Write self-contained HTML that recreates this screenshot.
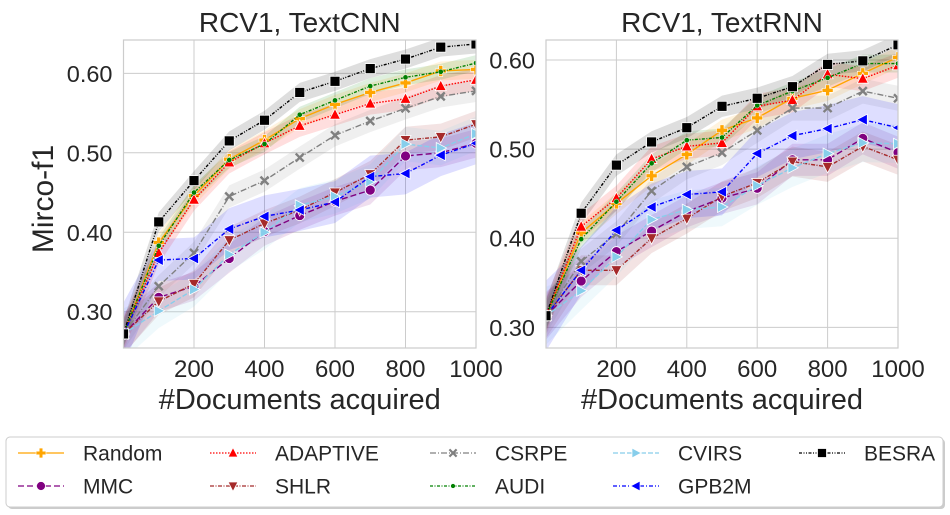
<!DOCTYPE html>
<html><head><meta charset="utf-8"><style>
body{margin:0;background:#fff;}
svg{display:block;font-family:"Liberation Sans",Arial,sans-serif;}
</style></head><body>
<svg id="chart" width="950" height="515"></svg>
<script>
const xs=[0,100,200,300,400,500,600,700,800,900,1000];
const names=["Random","MMC","ADAPTIVE","SHLR","CSRPE","AUDI","CVIRS","GPB2M","BESRA"];
// Left: TextCNN
const cnnRandom=[0.272,0.387,0.446,0.492,0.516,0.543,0.561,0.576,0.588,0.603,0.605];
const cnnMMC=[0.272,0.318,0.332,0.367,0.401,0.421,0.439,0.453,0.496,0.500,0.512];
const cnnADAPTIVE=[0.272,0.374,0.441,0.488,0.512,0.534,0.548,0.562,0.568,0.584,0.592];
const cnnSHLR=[0.272,0.313,0.335,0.390,0.411,0.428,0.450,0.473,0.516,0.520,0.536];
const cnnCSRPE=[0.272,0.332,0.374,0.445,0.465,0.494,0.522,0.540,0.556,0.571,0.578];
const cnnAUDI=[0.272,0.383,0.450,0.491,0.511,0.548,0.566,0.584,0.595,0.602,0.613];
const cnnCVIRS=[0.272,0.301,0.328,0.372,0.400,0.434,0.445,0.464,0.511,0.506,0.524];
const cnnGPB2M=[0.272,0.365,0.367,0.404,0.420,0.428,0.438,0.470,0.474,0.497,0.512];
const cnnBESRA=[0.272,0.413,0.465,0.515,0.541,0.576,0.590,0.606,0.618,0.633,0.637];
// Right: TextRNN
const rnnRandom=[0.313,0.406,0.439,0.470,0.494,0.521,0.535,0.557,0.566,0.585,0.603];
const rnnMMC=[0.313,0.352,0.385,0.408,0.430,0.445,0.456,0.488,0.488,0.512,0.496];
const rnnADAPTIVE=[0.313,0.413,0.445,0.489,0.503,0.507,0.548,0.555,0.584,0.579,0.594];
const rnnSHLR=[0.313,0.364,0.364,0.400,0.422,0.447,0.462,0.486,0.480,0.503,0.488];
const rnnCSRPE=[0.313,0.374,0.405,0.453,0.480,0.496,0.521,0.546,0.546,0.565,0.557];
const rnnAUDI=[0.313,0.399,0.441,0.484,0.510,0.513,0.549,0.565,0.580,0.596,0.596];
const rnnCVIRS=[0.313,0.341,0.379,0.421,0.432,0.435,0.459,0.479,0.495,0.507,0.506];
const rnnGPB2M=[0.313,0.364,0.409,0.435,0.449,0.452,0.495,0.515,0.523,0.533,0.524];
const rnnBESRA=[0.313,0.428,0.482,0.508,0.524,0.548,0.557,0.570,0.595,0.599,0.617];
const bandWidth=[0.012,0.015,0.014,0.014,0.014,0.010,0.018,0.022,0.010];
const yTicks=[0.30,0.40,0.50,0.60];
const xTicks=[200,400,600,800,1000];

const styles=[
 {c:"#ffa500",d:"",m:"plus"},
 {c:"#800080",d:"6,3",m:"circle"},
 {c:"#ff0000",d:"1.5,1.5",m:"tri-up"},
 {c:"#a52a2a",d:"4,1.5,1,1.5",m:"tri-down"},
 {c:"#808080",d:"6,2,1,2",m:"x"},
 {c:"#008000",d:"3,1.5,1,1.5",m:"dot"},
 {c:"#87ceeb",d:"5,2",m:"tri-right"},
 {c:"#0000ff",d:"4,2,1,2",m:"tri-left"},
 {c:"#000000",d:"3,1.5,1,1.5,1,1.5",m:"square"}
];
const NS="http://www.w3.org/2000/svg";
const svg=document.getElementById("chart");
function mk(t,a,p){const e=document.createElementNS(NS,t);for(const k in a)e.setAttribute(k,a[k]);(p||svg).appendChild(e);return e;}

function marker(g,type,x,y,c,s){
 let e;s=s||1;
 if(type==="square")e=mk("rect",{x:x-5*s,y:y-5*s,width:10*s,height:10*s,fill:c,stroke:"#fff","stroke-width":0.8},g);
 else if(type==="circle")e=mk("circle",{cx:x,cy:y,r:5*s,fill:c,stroke:"#fff","stroke-width":0.8},g);
 else if(type==="dot")e=mk("circle",{cx:x,cy:y,r:2.6*s,fill:c,stroke:"#fff","stroke-width":0.5},g);
 else if(type==="tri-up")e=mk("polygon",{points:`${x},${y-6*s} ${x-5.5*s},${y+4.5*s} ${x+5.5*s},${y+4.5*s}`,fill:c,stroke:"#fff","stroke-width":0.8},g);
 else if(type==="tri-down")e=mk("polygon",{points:`${x},${y+6*s} ${x-5.5*s},${y-4.5*s} ${x+5.5*s},${y-4.5*s}`,fill:c,stroke:"#fff","stroke-width":0.8},g);
 else if(type==="tri-right")e=mk("polygon",{points:`${x+6*s},${y} ${x-4.5*s},${y-5.5*s} ${x-4.5*s},${y+5.5*s}`,fill:c,stroke:"#fff","stroke-width":0.8},g);
 else if(type==="tri-left")e=mk("polygon",{points:`${x-6*s},${y} ${x+4.5*s},${y-5.5*s} ${x+4.5*s},${y+5.5*s}`,fill:c,stroke:"#fff","stroke-width":0.8},g);
 else if(type==="plus"){const w=2*s,l=5.5*s;e=mk("path",{d:`M${x-w},${y-l}h${2*w}v${l-w}h${l-w}v${2*w}h${-(l-w)}v${l-w}h${-2*w}v${-(l-w)}h${-(l-w)}v${-2*w}h${l-w}z`,fill:c,stroke:"#fff","stroke-width":0.6},g);}
 else if(type==="x"){const l=4*s;e=mk("path",{d:`M${x-l},${y-l}L${x+l},${y+l}M${x-l},${y+l}L${x+l},${y-l}`,stroke:c,"stroke-width":2.4*s},g);}
 return e;
}

function panel(P){
 const g=mk("g",{});
 
 
 const X=v=>P.x0+(v-0)/(1000-0)*(P.x1-P.x0);
 const Y=v=>P.y1-(v-P.ymin)/(P.ymax-P.ymin)*(P.y1-P.y0);
 const clip="clip"+P.id;
 const cp=mk("clipPath",{id:clip},g);mk("rect",{x:P.x0,y:P.y0,width:P.x1-P.x0,height:P.y1-P.y0},cp);
 for(const t of xTicks){const l=mk("line",{x1:X(t),x2:X(t),y1:P.y0,y2:P.y1,stroke:"#cccccc","stroke-width":1},g);
  }
 for(const t of yTicks){const l=mk("line",{x1:P.x0,x2:P.x1,y1:Y(t),y2:Y(t),stroke:"#cccccc","stroke-width":1},g);
  }
 const dg=mk("g",{"clip-path":`url(#${clip})`},g);
 P.series.forEach((s,i)=>{
  const bw=bandWidth[i]*(i>=6||i===1||i===3?1.2:1);
  let d="M"+xs.map((x,j)=>X(x)+","+Y(s[j]+bw*(j===0?1.5:1))).join("L");
  for(let j=xs.length-1;j>=0;j--)d+="L"+X(xs[j])+","+Y(s[j]-bw*(j===0?1.5:1));
  const b=mk("path",{d:d+"Z",fill:styles[i].c,"fill-opacity":0.13},dg);
  
 });
 P.series.forEach((s,i)=>{
  const ln=mk("polyline",{points:xs.map((x,j)=>X(x)+","+Y(s[j])).join(" "),fill:"none",stroke:styles[i].c,"stroke-width":1.4,"stroke-dasharray":styles[i].d},dg);
  
  xs.forEach((x,j)=>{const m=marker(dg,styles[i].m,X(x),Y(s[j]),styles[i].c);
   });
 });
 const fr=mk("rect",{x:P.x0,y:P.y0,width:P.x1-P.x0,height:P.y1-P.y0,fill:"none",stroke:"#cccccc","stroke-width":1.2},g);
 
 for(const t of yTicks){const e=mk("text",{x:P.x0-11,y:Y(t)+8.5,"text-anchor":"end","font-size":23.5,fill:"#262626"},g);e.textContent=t.toFixed(2);
  }
 for(const t of xTicks){const e=mk("text",{x:X(t),y:P.y1+29,"text-anchor":"middle","font-size":24,fill:"#262626"},g);e.textContent=t;
  }
 const tt=mk("text",{x:(P.x0+P.x1)/2,y:32,"text-anchor":"middle","font-size":28,fill:"#262626"},g);tt.textContent=P.title;
 
 const xl=mk("text",{x:(P.x0+P.x1)/2,y:409,"text-anchor":"middle","font-size":29,fill:"#262626"},g);xl.textContent="#Documents acquired";
 
}
panel({id:"L",name:"panel-textcnn",title:"RCV1, TextCNN",x0:123.5,x1:476,y0:40,y1:348,ymin:0.2543,ymax:0.642,
 series:[cnnRandom,cnnMMC,cnnADAPTIVE,cnnSHLR,cnnCSRPE,cnnAUDI,cnnCVIRS,cnnGPB2M,cnnBESRA]});
panel({id:"R",name:"panel-textrnn",title:"RCV1, TextRNN",x0:546,x1:898,y0:40,y1:348,ymin:0.2768,ymax:0.6224,
 series:[rnnRandom,rnnMMC,rnnADAPTIVE,rnnSHLR,rnnCSRPE,rnnAUDI,rnnCVIRS,rnnGPB2M,rnnBESRA]});
const yl=mk("text",{x:0,y:0,transform:"translate(53,199) rotate(-90)","text-anchor":"middle","font-size":30,fill:"#262626"});
yl.textContent="Mirco-f1";


// legend
const lg=mk("g",{});

mk("rect",{x:8,y:439,width:937,height:70,rx:4,fill:"#999","fill-opacity":0.5},lg);
mk("rect",{x:6,y:437,width:937,height:70,rx:4,fill:"#fff",stroke:"#cccccc","stroke-width":1},lg);
const colX=[18,210,430,613,799];
const order=[0,2,4,6,8,1,3,5,7];
order.forEach((si,k)=>{
 const col=k<5?k:k-5,row=k<5?0:1;
 const x=colX[col],y=453+row*33;
 const eg=mk("g",{},lg);
 
 
 mk("line",{x1:x,x2:x+46,y1:y,y2:y,stroke:styles[si].c,"stroke-width":1.2,"stroke-dasharray":styles[si].d},eg);
 marker(eg,styles[si].m,x+23,y,styles[si].c,0.9);
 const t=mk("text",{x:x+65,y:y+7.5,"font-size":21,fill:"#262626"},eg);t.textContent=names[si];
});
</script>
</body></html>
